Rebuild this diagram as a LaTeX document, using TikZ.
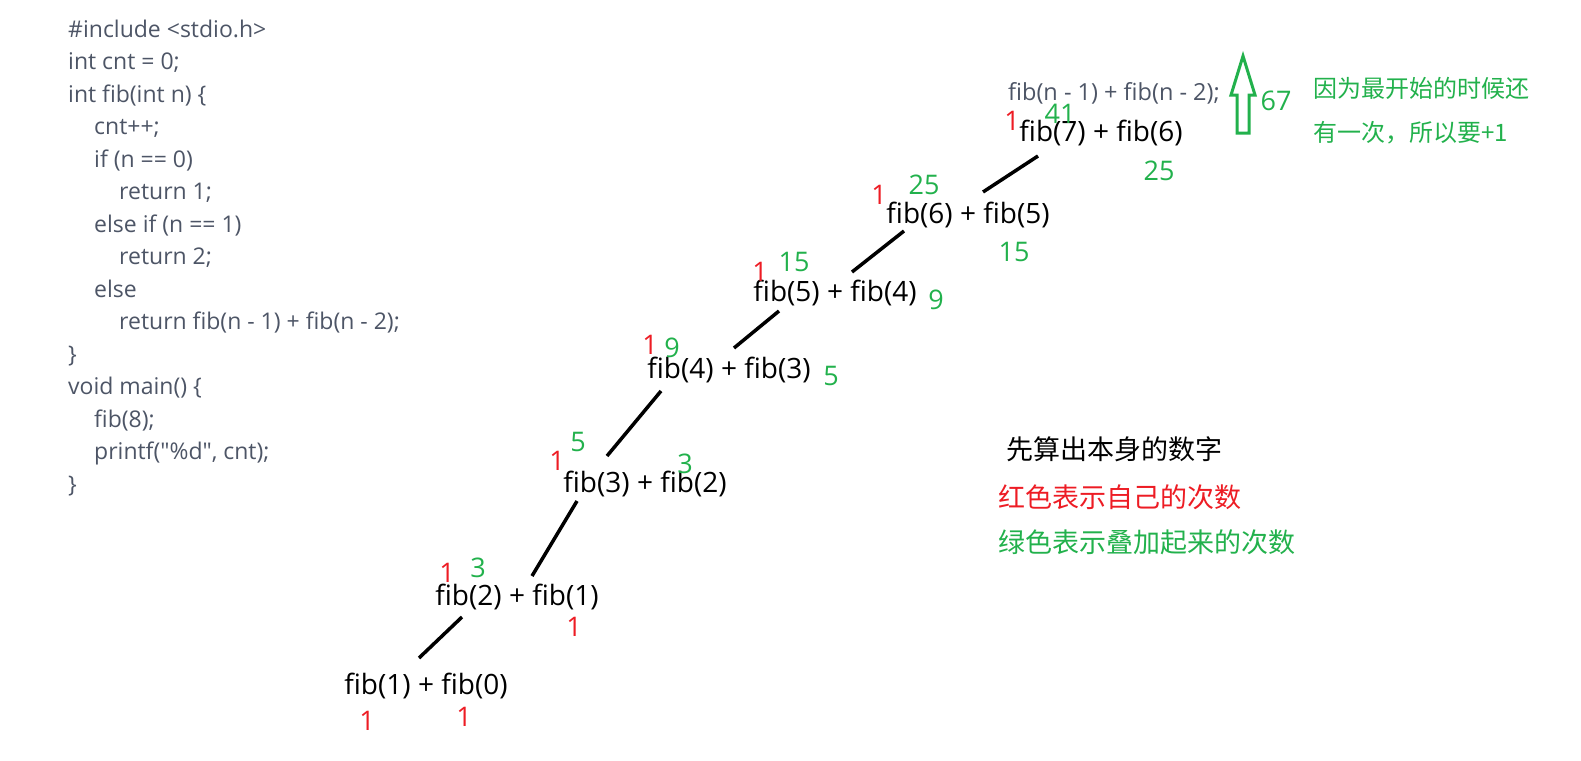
\documentclass[tikz,border=0pt]{standalone}
\usepackage{fontspec}
\setmainfont{Open Sans}[Ligatures={TeXOff,CommonOff}]
\newfontfamily\cjk{Noto Sans CJK SC}
\usetikzlibrary{positioning}

\definecolor{codegray}{HTML}{4D5566}
\definecolor{cntred}{HTML}{ED1C24}
\definecolor{cntgreen}{HTML}{22B14C}

\begin{document}
\begin{tikzpicture}[x=1pt, y=-1pt,
    every node/.style={inner sep=0pt},
    code/.style={anchor=west, align=left, text=codegray, font=\fontsize{23}{32.5}\selectfont},
    expr/.style={font=\fontsize{28}{30}\selectfont},
    own/.style={text=cntred, font=\fontsize{27}{30}\selectfont},
    total/.style={text=cntgreen, font=\fontsize{27}{30}\selectfont},
    note/.style={anchor=west, font=\cjk\fontsize{#1}{#1}\selectfont},
    link/.style={line width=3.5pt, black}]
    \useasboundingbox (0,0) rectangle (1581,760);

    % source code
    \node[code] (src) at (68,258)
      {\#include <stdio.h>\\
       int cnt = 0;\\
       int fib(int n) \{\\
       \hspace*{26pt}cnt++;\\
       \hspace*{26pt}if (n == 0)\\
       \hspace*{51pt}return 1;\\
       \hspace*{26pt}else if (n == 1)\\
       \hspace*{51pt}return 2;\\
       \hspace*{26pt}else\\
       \hspace*{51pt}return fib(n - 1) + fib(n - 2);\\
       \}\\
       void main() \{\\
       \hspace*{26pt}fib(8);\\
       \hspace*{26pt}printf("\%d", cnt);\\
       \}};

    % call chain
    \node[expr] (f7) at (1101,133) {fib(7) + fib(6)};
    \node[expr] (f6) at (968,215) {fib(6) + fib(5)};
    \node[expr] (f5) at (835,293) {fib(5) + fib(4)};
    \node[expr] (f4) at (729,370) {fib(4) + fib(3)};
    \node[expr] (f3) at (645,484) {fib(3) + fib(2)};
    \node[expr] (f2) at (517,597) {fib(2) + fib(1)};
    \node[expr] (f1) at (426,686) {fib(1) + fib(0)};

    \draw[link] ([shift={(-63,23)}]f7.center) -- ([shift={(15,-23)}]f6.center);
    \draw[link] ([shift={(-64,16)}]f6.center) -- ([shift={(17,-21)}]f5.center);
    \draw[link] ([shift={(-56,18)}]f5.center) -- ([shift={(5,-22)}]f4.center);
    \draw[link] ([shift={(-68,21)}]f4.center) -- ([shift={(-38,-28)}]f3.center);
    \draw[link] ([shift={(-68,17)}]f3.center) -- ([shift={(15,-21)}]f2.center);
    \draw[link] ([shift={(-55,20)}]f2.center) -- ([shift={(-7,-28)}]f1.center);

    % red: own calls
    \node[own] (r7) at (1012,121) {1};
    \node[own] (r6) at (879,195) {1};
    \node[own] (r5) at (760,272) {1};
    \node[own] (r4) at (650,345) {1};
    \node[own] (r3) at (557,461) {1};
    \node[own] (r2) at (447,573) {1};
    \node[own] (r1b) at (574,627) {1};
    \node[own] (r1) at (367,721) {1};
    \node[own] (r0) at (464,717) {1};

    % green: accumulated calls
    \node[total] (g7) at (1060,114) {41};
    \node[total] (g7b) at (1159,171) {25};
    \node[total] (g6) at (924,185) {25};
    \node[total] (g6b) at (1014,252) {15};
    \node[total] (g5) at (794,262) {15};
    \node[total] (g5b) at (936,300) {9};
    \node[total] (g4) at (672,348) {9};
    \node[total] (g4b) at (831,376) {5};
    \node[total] (g3) at (578,442) {5};
    \node[total] (g3b) at (685,464) {3};
    \node[total] (g2) at (478,568) {3};

    % top right
    \node[code, font=\fontsize{23.5}{25}\selectfont] (rec) at (1008,93) {fib(n - 1) + fib(n - 2);};
    \draw[cntgreen, line width=3pt, line join=miter]
      (1243,56) -- (1255,95) -- (1249,95) -- (1249,133) -- (1237,133) -- (1237,95) -- (1231,95) -- cycle;
    \node[total] (g8) at (1276,101) {67};
    \node[note=24, text=cntgreen, align=left, font=\cjk\fontsize{24}{44}\selectfont] (why) at (1313,111)
      {因为最开始的时候还\\有一次，所以要+1};

    % legend
    \node[note=27] (lg0) at (1006,449) {先算出本身的数字};
    \node[note=27, text=cntred] (lg1) at (998,497) {红色表示自己的次数};
    \node[note=27, text=cntgreen] (lg2) at (998,542) {绿色表示叠加起来的次数};
  \end{tikzpicture}
\end{document}
